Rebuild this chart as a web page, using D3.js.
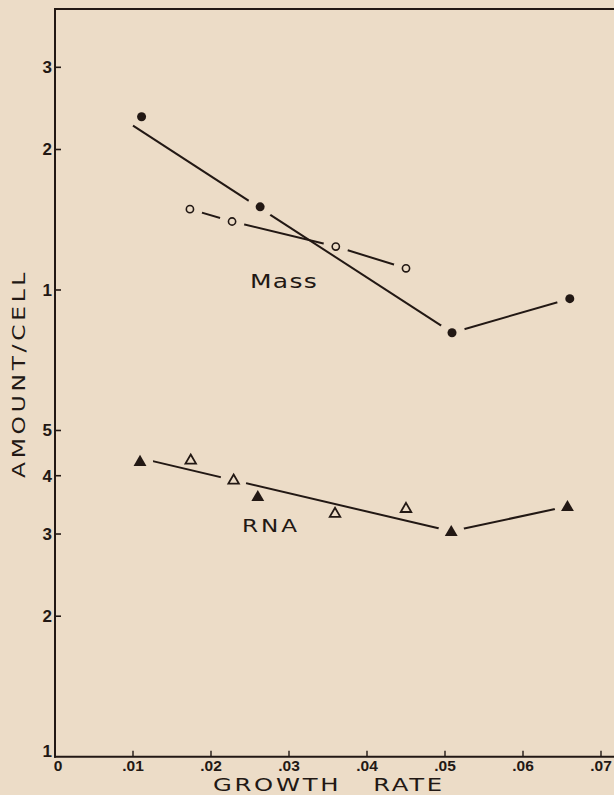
<!DOCTYPE html>
<html><head><meta charset="utf-8">
<script src="https://cdn.jsdelivr.net/npm/d3@7/dist/d3.min.js"></script>
<style>
html,body{margin:0;padding:0;background:#ecdcc7;}
svg{display:block;}
</style></head>
<body>
<svg id="chart" width="614" height="795"></svg>
<script>
// ---- data ----
const massFilledX = [0.0111, 0.0263, 0.0509, 0.0660];
const massFilledY = [2.35, 1.507, 0.810, 0.958];
const massOpenX   = [0.0173, 0.0227, 0.0360, 0.0450];
const massOpenY   = [1.490, 1.402, 1.239, 1.113];
const rnaFilledX  = [0.0109, 0.0260, 0.0508, 0.0657];
const rnaFilledY  = [0.4296, 0.3613, 0.3040, 0.3439];
const rnaOpenX    = [0.0174, 0.0229, 0.0359, 0.0450];
const rnaOpenY    = [0.4331, 0.3925, 0.3330, 0.3412];
// fitted lines (end points)
const massFitX = [0.0100, 0.0509];
const massFitY = [2.249, 0.810];
const rnaFitX  = [0.0109, 0.0508];
const rnaFitY  = [0.4362, 0.3040];
// ticks
const xTicks = [0.01, 0.02, 0.03, 0.04, 0.05, 0.06, 0.07];
const xTickLabels = [".01", ".02", ".03", ".04", ".05", ".06", ".07"];
const yTicks = [0.1, 0.2, 0.3, 0.4, 0.5, 1, 2, 3];
const yTickLabels = ["1", "2", "3", "4", "5", "1", "2", "3"];

const ink = "#221814";
const bg = "#ecdcc7";
const svg = d3.select("#chart");
svg.append("rect").attr("width", 614).attr("height", 795).attr("fill", bg);

const x = d3.scaleLinear().domain([0, 0.07]).range([55, 601]);
const y = d3.scaleLog().domain([0.1, 4]).range([756.7, 9]);

const zip = (a, b) => a.map((v, i) => [v, b[i]]);
const massFilled = zip(massFilledX, massFilledY);
const massOpen = zip(massOpenX, massOpenY);
const rnaFilled = zip(rnaFilledX, rnaFilledY);
const rnaOpen = zip(rnaOpenX, rnaOpenY);

// frame
const x0 = x(0), yb = y(0.1), yt = y(4);
svg.append("line").attr("x1", x0).attr("x2", x0).attr("y1", yt - 1).attr("y2", yb + 1)
  .attr("stroke", ink).attr("stroke-width", 2);
svg.append("line").attr("x1", x0 - 1).attr("x2", 614).attr("y1", yt).attr("y2", yt)
  .attr("stroke", ink).attr("stroke-width", 2);
svg.append("line").attr("x1", x0 - 1).attr("x2", 614).attr("y1", yb).attr("y2", yb)
  .attr("stroke", ink).attr("stroke-width", 2);

// y ticks
const yg = svg.append("g");
yTicks.forEach((t, i) => {
  if (t !== 0.1) {
    yg.append("line").attr("x1", x0).attr("x2", x0 + 6).attr("y1", y(t)).attr("y2", y(t))
      .attr("stroke", ink).attr("stroke-width", 1.6);
  }
  yg.append("text").attr("x", x0 - 3).attr("y", y(t) + (t === 0.1 ? 0 : 6))
    .attr("text-anchor", "end").attr("font-family", "Liberation Sans, Arial, sans-serif")
    .attr("font-weight", "bold").attr("font-size", 17).attr("fill", ink).text(yTickLabels[i]);
});
// x ticks
const xg = svg.append("g");
xTicks.forEach((t, i) => {
  xg.append("line").attr("x1", x(t)).attr("x2", x(t)).attr("y1", yb).attr("y2", yb - 6)
    .attr("stroke", ink).attr("stroke-width", 1.4);
  xg.append("text").attr("x", x(t)).attr("y", yb + 14).attr("text-anchor", "middle")
    .attr("font-family", "Liberation Sans, Arial, sans-serif").attr("font-weight", "bold")
    .attr("font-size", 15.5).attr("fill", ink).text(xTickLabels[i]);
});
xg.append("text").attr("x", x(0) + 3).attr("y", yb + 14).attr("text-anchor", "middle")
  .attr("font-family", "Liberation Sans, Arial, sans-serif").attr("font-weight", "bold")
  .attr("font-size", 15.5).attr("fill", ink).text("0");

// axis titles (glyphs widened to imitate the wide geometric face)
svg.append("text").attr("transform", "translate(213,790.5) scale(1.35,1)")
  .attr("font-family", "DejaVu Sans, sans-serif").attr("font-size", 18)
  .attr("letter-spacing", 2).attr("word-spacing", 16).attr("fill", ink).text("GROWTH RATE");
svg.append("text").attr("transform", "translate(25,478) rotate(-90) scale(1.3,1)")
  .attr("font-family", "DejaVu Sans, sans-serif").attr("font-size", 18)
  .attr("textLength", 158).attr("lengthAdjust", "spacing")
  .attr("fill", ink).text("AMOUNT/CELL");

// series labels
svg.append("text").attr("transform", "translate(250,288.3) scale(1.25,1)")
  .attr("font-family", "DejaVu Sans, sans-serif").attr("font-size", 20)
  .attr("textLength", 53.5).attr("lengthAdjust", "spacing").attr("fill", ink).text("Mass");
svg.append("text").attr("transform", "translate(242,531.7) scale(1.25,1)")
  .attr("font-family", "DejaVu Sans, sans-serif").attr("font-size", 18.5)
  .attr("textLength", 44).attr("lengthAdjust", "spacing").attr("fill", ink).text("RNA");

// lines with gaps around markers
const defs = svg.append("defs");
const line = d3.line().x(d => x(d[0])).y(d => y(d[1]));
const lines = [
  { pts: zip(massFitX, massFitY), breaks: massFilled.slice(1, 3), r: 13, w: 2 },
  { pts: massFilled.slice(2, 4), breaks: massFilled.slice(2, 4), r: 13, w: 2 },
  { pts: massOpen, breaks: massOpen, r: 12.5, w: 2 },
  { pts: zip(rnaFitX, rnaFitY), breaks: [rnaFilled[0], rnaOpen[1], rnaFilled[2]], r: 13, w: 2 },
  { pts: rnaFilled.slice(2, 4), breaks: rnaFilled.slice(2, 4), r: 13, w: 2 }
];
lines.forEach((L, i) => {
  const m = defs.append("mask").attr("id", "m" + i).attr("maskUnits", "userSpaceOnUse")
    .attr("x", 0).attr("y", 0).attr("width", 614).attr("height", 795);
  m.append("rect").attr("width", 614).attr("height", 795).attr("fill", "white");
  L.breaks.forEach(b => m.append("circle").attr("cx", x(b[0])).attr("cy", y(b[1]))
    .attr("r", L.r).attr("fill", "black"));
  svg.append("path").attr("d", line(L.pts)).attr("fill", "none").attr("stroke", ink)
    .attr("stroke-width", L.w).attr("mask", "url(#m" + i + ")");
});

// markers
svg.append("g").selectAll("circle").data(massFilled).join("circle")
  .attr("cx", d => x(d[0])).attr("cy", d => y(d[1])).attr("r", 4.5).attr("fill", ink);
svg.append("g").selectAll("circle").data(massOpen).join("circle")
  .attr("cx", d => x(d[0])).attr("cy", d => y(d[1])).attr("r", 3.6)
  .attr("fill", "none").attr("stroke", ink).attr("stroke-width", 1.6);
const triF = d3.symbol().type(d3.symbolTriangle).size(72);
const triO = d3.symbol().type(d3.symbolTriangle).size(48);
svg.append("g").selectAll("path").data(rnaFilled).join("path")
  .attr("transform", d => `translate(${x(d[0])},${y(d[1]) + 1})`).attr("d", triF).attr("fill", ink);
svg.append("g").selectAll("path").data(rnaOpen).join("path")
  .attr("transform", d => `translate(${x(d[0])},${y(d[1]) + 1})`).attr("d", triO)
  .attr("fill", "none").attr("stroke", ink).attr("stroke-width", 1.8).attr("stroke-linejoin", "miter");
</script>
</body></html>
